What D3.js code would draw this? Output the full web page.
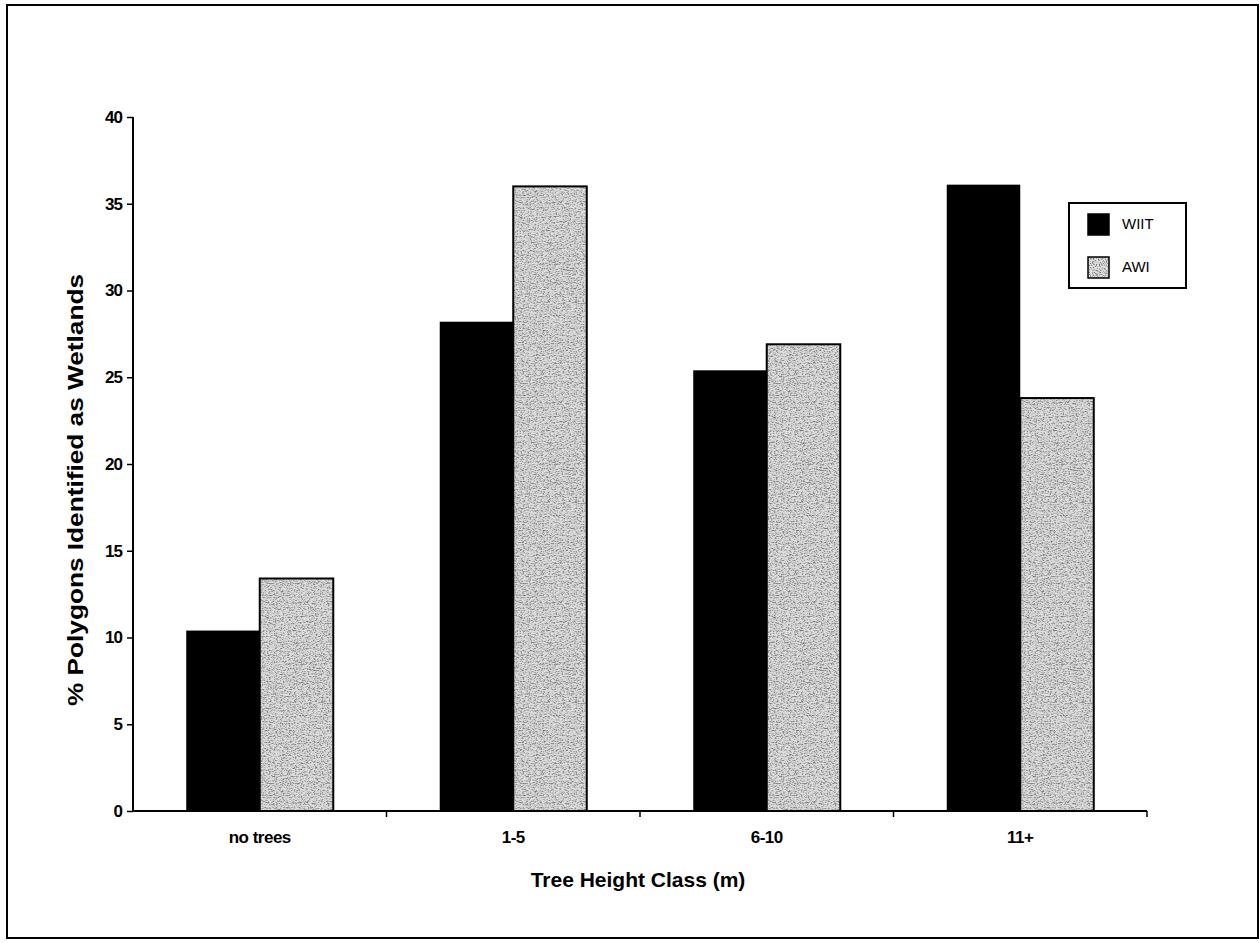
<!DOCTYPE html>
<html>
<head>
<meta charset="utf-8">
<script src="https://cdn.jsdelivr.net/npm/d3@7"></script>
<style>
  body { margin: 0; background: #fff; }
</style>
</head>
<body>
<div id="container"></div>
<script>
const categories = ["no trees", "1-5", "6-10", "11+"];
const seriesNames = ["WIIT", "AWI"];
const wiit = [10.4, 28.2, 25.4, 36.1];
const awi = [13.4, 36.0, 26.9, 23.8];
const yTicks = [0, 5, 10, 15, 20, 25, 30, 35, 40];

const width = 1260;
const height = 943;
const margin = {left: 133, right: 116, top: 117, bottom: 132};
const font = "Liberation Sans, Arial, sans-serif";

const svg = d3.create("svg")
    .attr("width", width)
    .attr("height", height)
    .style("display", "block");

// speckled grey fill for the AWI bars
const defs = svg.append("defs");
const noise = defs.append("filter")
    .attr("id", "speckle")
    .attr("x", 0).attr("y", 0).attr("width", 1).attr("height", 1);
noise.append("feTurbulence")
    .attr("type", "fractalNoise")
    .attr("baseFrequency", 0.85)
    .attr("numOctaves", 2)
    .attr("seed", 3)
    .attr("result", "n");
noise.append("feColorMatrix")
    .attr("type", "matrix")
    .attr("values", "0 0 0 0 0  0 0 0 0 0  0 0 0 0 0  0 0 0 -4 2.1")
    .attr("in", "n");

const pattern = defs.append("pattern")
    .attr("id", "awiFill")
    .attr("patternUnits", "userSpaceOnUse")
    .attr("width", 200)
    .attr("height", 200);
pattern.append("rect")
    .attr("width", 200).attr("height", 200)
    .attr("fill", "#dedede");
pattern.append("rect")
    .attr("width", 200).attr("height", 200)
    .attr("fill", "#000")
    .attr("filter", "url(#speckle)")
    .attr("opacity", 0.48);

const colors = {WIIT: "#000", AWI: "url(#awiFill)"};

// outer frame
svg.append("rect")
    .attr("x", 7).attr("y", 5)
    .attr("width", 1251).attr("height", 933)
    .attr("fill", "none")
    .attr("stroke", "#000")
    .attr("stroke-width", 2);

const x0 = d3.scaleBand()
    .domain(categories)
    .range([margin.left, width - margin.right + 3])
    .paddingInner(0.42)
    .paddingOuter(0.21);

const x1 = d3.scaleBand()
    .domain(seriesNames)
    .range([0, x0.bandwidth()]);

const y = d3.scaleLinear()
    .domain([0, 40])
    .range([height - margin.bottom, margin.top]);

const rows = categories.map((c, i) => ({
    category: c,
    values: [{key: "WIIT", value: wiit[i]}, {key: "AWI", value: awi[i]}]
}));

svg.append("g")
    .selectAll("g")
    .data(rows)
    .join("g")
    .attr("transform", d => `translate(${x0(d.category)},0)`)
    .selectAll("rect")
    .data(d => d.values)
    .join("rect")
    .attr("x", d => x1(d.key))
    .attr("width", x1.bandwidth())
    .attr("y", d => y(d.value))
    .attr("height", d => y(0) - y(d.value))
    .attr("fill", d => colors[d.key])
    .attr("stroke", d => d.key === "AWI" ? "#000" : "none")
    .attr("stroke-width", 2);

// y axis
const yAxis = svg.append("g")
    .attr("transform", `translate(${margin.left},0)`)
    .call(d3.axisLeft(y).tickValues(yTicks).tickSize(6).tickPadding(5));
yAxis.attr("font-size", null).attr("font-family", null);
yAxis.select(".domain").attr("stroke-width", 2).attr("d", `M-0,${y(40)}H0V${y(0)}`);
yAxis.selectAll(".tick line").attr("stroke-width", 1.5);
yAxis.selectAll("text")
    .style("font-family", font)
    .style("font-weight", "bold")
    .style("font-size", "17px")
    .attr("letter-spacing", "-1px")
    .attr("fill", "#000");

// x axis: ticks on category boundaries
const xRange = x0.range();
const step = x0.step();
const boundaries = d3.range(categories.length + 1).map(i => xRange[0] + i * step);

svg.append("line")
    .attr("x1", xRange[0]).attr("x2", xRange[1])
    .attr("y1", y(0)).attr("y2", y(0))
    .attr("stroke", "#000")
    .attr("stroke-width", 2);

svg.selectAll("line.xtick")
    .data(boundaries.slice(1))
    .join("line")
    .attr("class", "xtick")
    .attr("x1", d => d).attr("x2", d => d)
    .attr("y1", y(0)).attr("y2", y(0) + 6)
    .attr("stroke", "#000")
    .attr("stroke-width", 1.5);

svg.selectAll("text.xlabel")
    .data(categories)
    .join("text")
    .attr("class", "xlabel")
    .attr("x", d => x0(d) + x0.bandwidth() / 2)
    .attr("y", y(0) + 32)
    .attr("text-anchor", "middle")
    .attr("font-family", font)
    .attr("font-weight", "bold")
    .attr("font-size", "17px")
    .attr("letter-spacing", "-0.5px")
    .text(d => d);

// axis titles
svg.append("text")
    .attr("x", 638)
    .attr("y", 887)
    .attr("text-anchor", "middle")
    .attr("font-family", font)
    .attr("font-weight", "bold")
    .attr("font-size", "21px")
    .text("Tree Height Class (m)");

svg.append("text")
    .attr("transform", "translate(83,490) rotate(-90)")
    .attr("text-anchor", "middle")
    .attr("font-family", font)
    .attr("font-weight", "bold")
    .attr("font-size", "22px")
    .attr("textLength", 432)
    .attr("lengthAdjust", "spacingAndGlyphs")
    .text("% Polygons Identified as Wetlands");

// legend
const legend = svg.append("g")
    .attr("transform", "translate(1069,203)");

legend.append("rect")
    .attr("width", 117).attr("height", 85)
    .attr("fill", "#fff")
    .attr("stroke", "#000")
    .attr("stroke-width", 2);

legend.selectAll("rect.swatch")
    .data(seriesNames)
    .join("rect")
    .attr("class", "swatch")
    .attr("x", 19)
    .attr("y", (_, i) => 11 + i * 43)
    .attr("width", 21).attr("height", 21)
    .attr("fill", d => colors[d])
    .attr("stroke", "#000")
    .attr("stroke-width", 1.5);

legend.selectAll("text")
    .data(seriesNames)
    .join("text")
    .attr("x", 53)
    .attr("y", (_, i) => 22 + i * 43)
    .attr("dominant-baseline", "middle")
    .attr("font-family", font)
    .attr("font-size", "15px")
    .text(d => d);

d3.select("#container").append(() => svg.node());
</script>
</body>
</html>
